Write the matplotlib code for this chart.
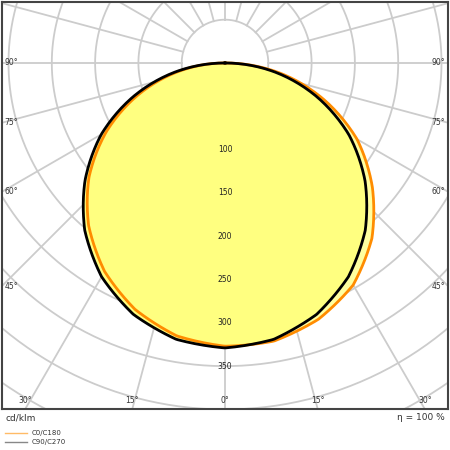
import numpy as np
import matplotlib
matplotlib.use("Agg")
import matplotlib.pyplot as plt

gamma = [0, 10, 20, 30, 40, 50, 60, 70, 80, 90]
c0 = [329, 326, 315, 296, 264, 222, 176, 120, 62, 0]      # right side (C0)
c180 = [327, 320, 303, 278, 245, 205, 158, 106, 53, 0]    # left side (C180)
c90 = [329, 324, 309, 285, 252, 211, 165, 112, 57, 0]     # symmetric (C90/C270)
ring_values = [50, 100, 150, 200, 250, 300, 350, 400, 450, 500]
ring_labels = [100, 150, 200, 250, 300, 350]
angle_labels = [90, 75, 60, 45, 30, 15, 0]

fig = plt.figure(figsize=(4.5, 4.5), dpi=100)
ax = fig.add_axes([2/450, 41/450, 446/450, 407/450])
X0, X1, Y0, Y1 = -257.5, 257.5, -399.5, 70.4
ax.set_xlim(X0, X1); ax.set_ylim(Y0, Y1)
ax.set_aspect('auto')
ax.set_xticks([]); ax.set_yticks([])
for s in ax.spines.values():
    s.set_color('#444444'); s.set_linewidth(1.5)

gc = '#cccccc'
t = np.linspace(0, 2*np.pi, 400)
for r in ring_values:
    ax.plot(r*np.sin(t), r*np.cos(t), color=gc, lw=1.3, zorder=1)
for a in range(0, 360, 15):
    ar = np.radians(a)
    ax.plot([50*np.sin(ar), 800*np.sin(ar)], [-50*np.cos(ar), -800*np.cos(ar)], color=gc, lw=1.3, zorder=1)

def curve(vals_r, vals_l):
    g = np.radians(gamma)
    ang = np.concatenate([-g[::-1], g[1:]])
    rr = np.concatenate([np.array(vals_l)[::-1], np.array(vals_r)[1:]])
    fine = np.linspace(-np.pi/2, np.pi/2, 400)
    rf = np.interp(fine, ang, rr)
    return rf*np.sin(fine), -rf*np.cos(fine)

xo, yo = curve(c0, c180)
xb, yb = curve(c90, c90)
ax.fill(xo, yo, color='#ffffa0', lw=0, zorder=2)
ax.fill(xb, yb, color='#ffff80', lw=0, zorder=2)
ax.plot(xo, yo, color='#ff8c00', lw=2, zorder=4)
ax.plot(xb, yb, color='black', lw=2, zorder=5)

for v in ring_labels:
    ax.text(0, -v, str(v), ha='center', va='center', fontsize=5.5, color='#222222', zorder=6)

for a in angle_labels:
    ar = np.radians(a)
    if a >= 45:
        y = -X1*np.cos(ar)/np.sin(ar)
        ax.text(X0+3, y, f"{a}°", ha='left', va='center', fontsize=5.5, color='#333333')
        ax.text(X1-3, y, f"{a}°", ha='right', va='center', fontsize=5.5, color='#333333')
    else:
        x = -Y0*np.tan(ar)
        ax.text(-x, Y0+10, f"{a}°", ha='center', va='center', fontsize=5.5, color='#333333')
        if a > 0:
            ax.text(x, Y0+10, f"{a}°", ha='center', va='center', fontsize=5.5, color='#333333')

fig.text(5/450, 1-418/450, "cd/klm", ha='left', va='center', fontsize=6.5, color='#333333')
fig.text(445/450, 1-418/450, "η = 100 %", ha='right', va='center', fontsize=6.5, color='#333333')
fig.add_artist(plt.Line2D([5/450, 27/450], [1-433/450]*2, color='#ffbb66', lw=1))
fig.add_artist(plt.Line2D([5/450, 27/450], [1-442/450]*2, color='#888888', lw=1))
fig.text(32/450, 1-433/450, "C0/C180", ha='left', va='center', fontsize=5, color='#333333')
fig.text(32/450, 1-442/450, "C90/C270", ha='left', va='center', fontsize=5, color='#333333')

fig.savefig("out.png", dpi=100)
